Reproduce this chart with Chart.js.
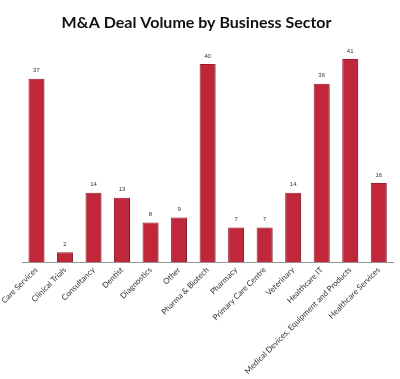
<!DOCTYPE html>
<html>
<head>
<meta charset="utf-8">
<script src="https://cdn.jsdelivr.net/npm/chart.js@4/dist/chart.umd.min.js"></script>
<style>
    html, body { margin: 0; padding: 0; background: #fff; }
    #box { width: 400px; height: 379px; }
</style>
</head>
<body>
<div id="box"><canvas id="dealChart"></canvas></div>
<script>
// 類別
const sectors = [
    'Care Services', 'Clinical Trials', 'Consultancy', 'Dentist', 'Diagnostics',
    'Other', 'Pharma & Biotech', 'Pharmacy', 'Primary Care Centre', 'Veterinary',
    'Healthcare IT', 'Medical Devices, Equipment and Products', 'Healthcare Services'
];
// 交易數量
const dealCounts = [37, 2, 14, 13, 8, 9, 40, 7, 7, 14, 36, 41, 16];

// 柱子陰影 + 數值標籤
const shadowPlugin = {
    id: 'barShadow',
    beforeDatasetsDraw(chart) {
        const ctx = chart.ctx;
        ctx.save();
        ctx.shadowColor = 'rgba(0,0,0,0.25)';
        ctx.shadowOffsetX = 2;
        ctx.shadowOffsetY = 1;
        ctx.shadowBlur = 2;
    },
    afterDatasetsDraw(chart) {
        const ctx = chart.ctx;
        ctx.restore();
        ctx.save();
        ctx.font = '6px "Liberation Sans", sans-serif';
        ctx.fillStyle = '#333';
        ctx.textAlign = 'center';
        ctx.textBaseline = 'bottom';
        chart.getDatasetMeta(0).data.forEach((bar, i) => {
            ctx.fillText(dealCounts[i], bar.x, bar.y - 5);
        });
        ctx.restore();
    }
};

new Chart(document.getElementById('dealChart'), {
    type: 'bar',
    data: {
        labels: sectors,
        datasets: [{
            data: dealCounts,
            backgroundColor: '#C1273A',
            borderColor: '#A11D2D',
            borderWidth: 1,
            barPercentage: 0.56,
            categoryPercentage: 1
        }]
    },
    options: {
        responsive: true,
        maintainAspectRatio: false,
        animation: false,
        layout: {
            padding: { left: 0, right: 7, top: 0, bottom: 0 }
        },
        plugins: {
            legend: { display: false },
            tooltip: { enabled: false },
            title: {
                display: true,
                text: 'M&A Deal Volume by Business Sector',
                color: '#111',
                font: { family: 'Lato', size: 16, weight: 'bold' },
                padding: { top: 13, bottom: 7 }
            }
        },
        scales: {
            x: {
                grid: { display: false, drawTicks: false },
                border: { color: '#999', width: 1 },
                ticks: {
                    color: '#333',
                    font: { family: 'Lato', size: 8 },
                    minRotation: 45,
                    maxRotation: 45,
                    autoSkip: false,
                    padding: 3
                }
            },
            y: {
                display: false,
                min: 0,
                max: 45
            }
        }
    },
    plugins: [shadowPlugin]
});
</script>
</body>
</html>
